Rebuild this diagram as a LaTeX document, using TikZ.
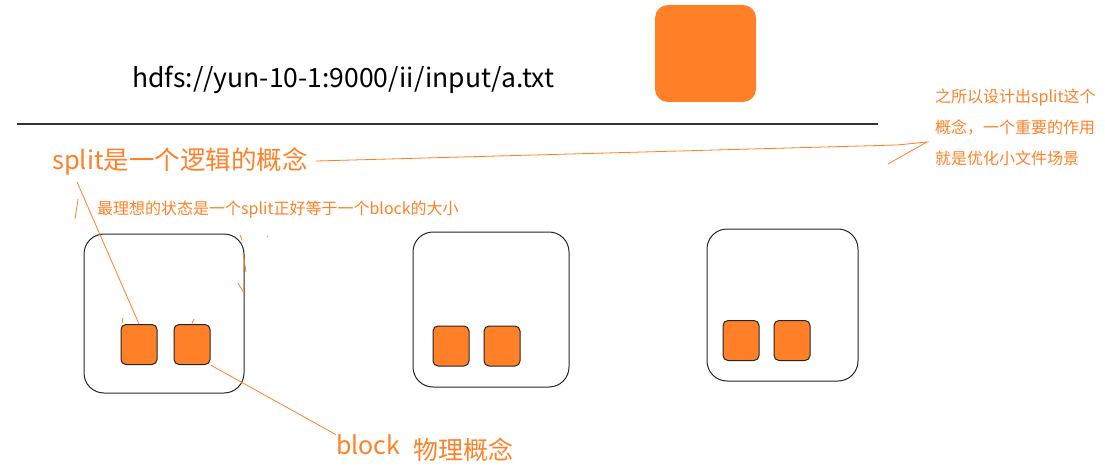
\documentclass[tikz,border=0pt]{standalone}
\usepackage{fontspec}
\newfontfamily\cjk{Noto Sans CJK SC}
\usetikzlibrary{positioning}
\definecolor{MarkOrange}{RGB}{255,128,38}

\tikzset{
  hostbox/.style={draw=black!85, line width=1pt, rounded corners=20pt, inner sep=0pt},
  blockbox/.style={draw=black!85, fill=MarkOrange, line width=1pt, rounded corners=5pt,
                   minimum width=36pt, minimum height=40pt, inner sep=0pt},
  remark/.style={text=MarkOrange, inner sep=0pt, anchor=west},
  pen/.style={draw=MarkOrange, line width=0.8pt},
}

\begin{document}
\begin{tikzpicture}[x=1pt, y=-1pt, font=\cjk]
  \useasboundingbox (0,0) rectangle (1105,468);

  % file path and the file
  \node[anchor=west, inner sep=0pt, font=\cjk\fontsize{26.5}{30}\selectfont] (path) at (132,80)
    {hdfs://yun-10-1:9000/ii/input/a.txt};
  \node[fill=MarkOrange, rounded corners=13pt, minimum width=101pt, minimum height=97pt,
        inner sep=0pt] (file) at (705.5,53.5) {};
  \coordinate (ruleL) at (17,124);
  \coordinate (ruleR) at (878,124);
  \draw[black!80, line width=1.3pt] (ruleL) -- (ruleR);

  % three hosts, two blocks each
  \node[hostbox, minimum width=160pt, minimum height=159pt] (hostA) at (164,313.5) {};
  \node[hostbox, minimum width=156pt, minimum height=155pt] (hostB) at (491,309.5) {};
  \node[hostbox, minimum width=151pt, minimum height=152pt] (hostC) at (782.5,305) {};
  \node[blockbox] (a1) at (139,344.5) {};
  \node[blockbox, right=16pt of a1] (a2) {};
  \node[blockbox] (b1) at (451,346) {};
  \node[blockbox, right=14pt of b1] (b2) {};
  \node[blockbox] (c1) at (741,340.5) {};
  \node[blockbox, right=14pt of c1] (c2) {};

  % remarks
  \node[remark, font=\cjk\fontsize{25.5}{30}\selectfont] (split) at (52,161) {split是一个逻辑的概念};
  \node[remark, font=\cjk\fontsize{16}{19}\selectfont] (ideal) at (97,210)
    {最理想的状态是一个split正好等于一个block的大小};
  \node[remark, anchor=north west, align=left, font=\cjk\fontsize{16}{31}\selectfont] (why) at (935,89)
    {之所以设计出split这个\\概念，一个重要的作用\\就是优化小文件场景};
  \node[remark, font=\cjk\fontsize{25}{30}\selectfont] (blk) at (336,445) {block};
  \node[remark, font=\cjk\fontsize{25}{30}\selectfont] (phys) at (413,450) {物理概念};

  % pen strokes
  \coordinate (splitEnd) at (897,145);
  \coordinate (tipUp) at (927,142);
  \coordinate (tipLow) at (888,164);
  \draw[pen] ([xshift=8pt]split.east) -- (splitEnd) -- (tipUp) -- (tipLow);
  \coordinate (splitFoot) at (77,182);
  \draw[pen] (splitFoot) -- (a1.north);
  \draw[pen] (75,219) -- (78,199);
  \draw[pen] (a2.south east) -- (blk.north west);
  \draw[pen] (240,235) -- (242,240);
  \draw[pen] (243,253) -- (246,272);
  \draw[pen] (238,283) -- (244,293);
  \draw[pen] (267,236) -- (268,236);
  \draw[pen] (122,323) -- (123,318);
  \draw[pen] (192,323) -- (194,319);
\end{tikzpicture}
\end{document}
